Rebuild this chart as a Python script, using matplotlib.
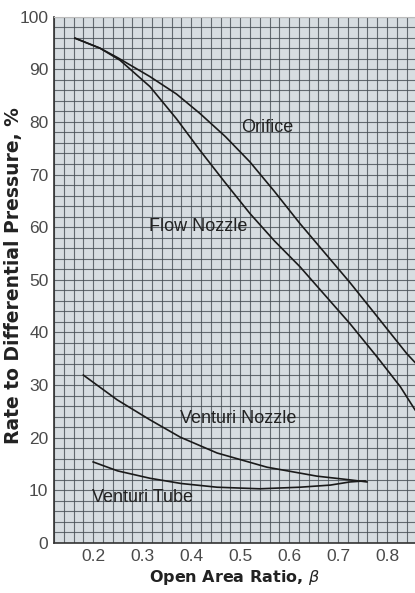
import numpy as np
import matplotlib.pyplot as plt

# curves (beta, %)
orifice_beta = [0.163, 0.214, 0.250, 0.316, 0.370, 0.418, 0.470, 0.520, 0.570, 0.622, 0.724, 0.780, 0.840, 0.857]
orifice_pct = [95.9, 94.0, 92.2, 88.6, 85.3, 81.6, 77.2, 72.4, 66.8, 60.7, 49.5, 43.0, 36.0, 34.3]

nozzle_beta = [0.163, 0.214, 0.255, 0.316, 0.370, 0.418, 0.470, 0.520, 0.570, 0.622, 0.724, 0.780, 0.827, 0.857]
nozzle_pct = [95.9, 94.0, 91.7, 86.7, 80.6, 74.6, 68.4, 62.6, 57.4, 52.5, 41.7, 35.3, 29.7, 25.3]

vnozzle_beta = [0.180, 0.249, 0.316, 0.378, 0.453, 0.555, 0.657, 0.724, 0.759]
vnozzle_pct = [31.9, 27.2, 23.4, 20.1, 17.1, 14.4, 12.7, 12.0, 11.6]

vtube_beta = [0.200, 0.250, 0.316, 0.380, 0.453, 0.540, 0.622, 0.684, 0.724, 0.755]
vtube_pct = [15.4, 13.7, 12.3, 11.3, 10.6, 10.3, 10.6, 11.0, 11.6, 11.8]

labels = ['Orifice', 'Flow Nozzle', 'Venturi Nozzle', 'Venturi Tube']
label_pos = [(0.503, 79.0), (0.314, 60.2), (0.377, 23.7), (0.198, 8.7)]

x_ticks = [0.2, 0.3, 0.4, 0.5, 0.6, 0.7, 0.8]
y_ticks = [0, 10, 20, 30, 40, 50, 60, 70, 80, 90, 100]

FONT = ['Liberation Sans', 'DejaVu Sans']
BG = '#d7dde1'
GRID = '#464e54'

fig = plt.figure(figsize=(4.15, 5.93), dpi=100)
ax = fig.add_axes([0.130, 0.0843, 0.87, 0.8877])
ax.set_facecolor(BG)

ax.set_xlim(0.12, 0.857)
ax.set_ylim(0, 100)

# fine graph-paper grid
ax.set_xticks(np.arange(0.12, 0.86, 0.02), minor=True)
ax.set_yticks(np.arange(0, 101, 2), minor=True)
ax.set_xticks(x_ticks)
ax.set_yticks(y_ticks)
ax.set_xticklabels([f'{v:.1f}' for v in x_ticks], family=FONT, fontsize=12.5, color='#4a4a4a')
ax.set_yticklabels([str(v) for v in y_ticks], family=FONT, fontsize=12.5, color='#4a4a4a')
ax.tick_params(which='both', length=0)
ax.tick_params(axis='x', pad=4)
ax.tick_params(axis='y', pad=4)
ax.grid(which='both', color=GRID, linewidth=0.8, alpha=0.8)
ax.set_axisbelow(True)

for s in ['left', 'bottom']:
    ax.spines[s].set_color('#333333')
    ax.spines[s].set_linewidth(1.2)
ax.spines['top'].set_color('#bbbbbb')
ax.spines['right'].set_visible(False)

for bx, py in [(orifice_beta, orifice_pct), (nozzle_beta, nozzle_pct),
               (vnozzle_beta, vnozzle_pct), (vtube_beta, vtube_pct)]:
    ax.plot(bx, py, color='#1a1a1a', linewidth=1.2)

for txt, (tx, ty) in zip(labels, label_pos):
    ax.text(tx, ty, txt, family=FONT, fontsize=13, color='#222222',
            ha='left', va='center')

ax.set_xlabel(r'Open Area Ratio, $\beta$', fontsize=11.5, fontweight='bold', color='#222222', labelpad=3)
fig.text(14 / 415, 1 - 276 / 593, 'Rate to Differential Pressure, %', rotation=90,
         ha='center', va='center', fontsize=13.5, fontweight='bold', color='#222222')

fig.savefig('out.png', dpi=100)
